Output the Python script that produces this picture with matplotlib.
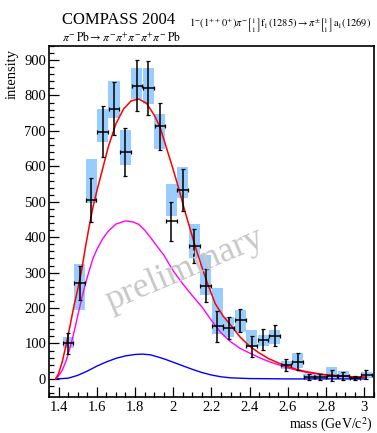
import matplotlib
matplotlib.use("Agg")
import matplotlib.pyplot as plt
from matplotlib.ticker import MultipleLocator, FormatStrFormatter

plt.rcParams["font.family"] = ["Liberation Serif", "DejaVu Serif"]
plt.rcParams["mathtext.fontset"] = "stix"

# data points (mass bins)
mass = [1.45, 1.51, 1.57, 1.63, 1.69, 1.75, 1.81, 1.87, 1.93, 1.99, 2.05, 2.11, 2.17, 2.23,
        2.29, 2.35, 2.41, 2.47, 2.53, 2.59, 2.65, 2.71, 2.77, 2.83, 2.89, 2.95, 3.01]
intensity = [101, 271, 505, 698, 763, 641, 827, 822, 713, 445, 533, 376, 263, 148,
             144, 165, 92, 111, 122, 40, 48, 6, 6, 9, 8, 3, 12]
stat_err = [30, 48, 63, 72, 74, 68, 72, 76, 67, 55, 60, 48, 46, 43,
            31, 32, 30, 30, 30, 17, 24, 8, 8, 16, 11, 5, 12]
# systematic bands (low, high)
sys_lo = [86, 194, 497, 668, 736, 603, 789, 775, 648, 459, 511, 340, 237, 126,
          118, 133, 90, 92, 99, 28, 31, 0, 0, 3, 0, -2, 3]
sys_hi = [119, 323, 622, 763, 840, 704, 877, 879, 749, 549, 597, 436, 351, 258,
          175, 194, 139, 125, 137, 50, 73, 15, 12, 34, 21, 9, 19]

# fit curves
red_x = [1.385, 1.40, 1.42, 1.44, 1.46, 1.48, 1.50, 1.52, 1.54, 1.56, 1.58, 1.60, 1.63, 1.66,
         1.70, 1.74, 1.78, 1.82, 1.86, 1.90, 1.93, 1.96, 2.00, 2.03, 2.06, 2.09, 2.12, 2.15,
         2.18, 2.22, 2.26, 2.30, 2.35, 2.40, 2.45, 2.50, 2.55, 2.60, 2.65, 2.70, 2.78, 2.86,
         2.94, 3.01]
red_y = [0, 15, 50, 97, 150, 205, 252, 305, 370, 430, 485, 530, 592, 655,
         720, 762, 785, 790, 778, 745, 712, 660, 590, 535, 475, 420, 365, 315,
         268, 212, 178, 152, 118, 92, 73, 57, 45, 35, 26, 20, 13, 9,
         6, 5]
mag_x = [1.385, 1.40, 1.42, 1.44, 1.46, 1.48, 1.50, 1.52, 1.54, 1.56, 1.58, 1.60, 1.63, 1.66,
         1.70, 1.75, 1.79, 1.82, 1.85, 1.88, 1.91, 1.95, 2.00, 2.05, 2.10, 2.15, 2.20, 2.25,
         2.30, 2.35, 2.40, 2.45, 2.50, 2.55, 2.60, 2.65, 2.70, 2.78, 2.86, 2.94, 3.01]
mag_y = [0, 8, 25, 52, 88, 130, 178, 225, 268, 305, 340, 365, 395, 417,
         437, 446, 443, 436, 420, 400, 378, 350, 305, 268, 235, 203, 165, 130,
         105, 86, 73, 60, 49, 40, 31, 24, 18, 12, 8, 6, 5]
blue_x = [1.385, 1.45, 1.50, 1.55, 1.60, 1.65, 1.70, 1.75, 1.80, 1.84, 1.88, 1.92, 1.96, 2.00,
          2.05, 2.10, 2.15, 2.20, 2.25, 2.30, 2.40, 2.60, 3.01]
blue_y = [0, 2, 10, 22, 36, 48, 58, 65, 69, 70, 68, 62, 55, 47,
          37, 27, 18, 11, 6, 3, 1, 0, 0]

fig = plt.figure(figsize=(3.77, 4.33), dpi=100)
ax = fig.add_axes([0.130, 0.084, 0.862, 0.810])

heights = [h - l for h, l in zip(sys_hi, sys_lo)]
ax.bar(mass, heights, bottom=sys_lo, width=0.058, color="#99ccff", linewidth=0, zorder=1)

ax.plot(blue_x, blue_y, color="#0000ff", lw=1.0, zorder=2)
ax.plot(mag_x, mag_y, color="#ff00ff", lw=1.0, zorder=2)
ax.plot(red_x, red_y, color="#ff0000", lw=1.1, zorder=3)

ax.errorbar(mass, intensity, yerr=stat_err, xerr=0.028, fmt="none", ecolor="black",
            elinewidth=1.1, capsize=1.5, capthick=0.9, zorder=4)

ax.set_xlim(1.35, 3.05)
ax.set_ylim(-50, 940)
ax.xaxis.set_major_locator(MultipleLocator(0.2))
ax.xaxis.set_minor_locator(MultipleLocator(0.05))
ax.yaxis.set_major_locator(MultipleLocator(100))
ax.yaxis.set_minor_locator(MultipleLocator(20))
ax.xaxis.set_major_formatter(FormatStrFormatter("%g"))
ax.tick_params(which="both", direction="in", top=False, right=False, labelsize=10.5, width=0.9)
ax.tick_params(which="major", length=7)
ax.tick_params(which="minor", length=3.5)
ax.tick_params(axis="y", pad=2)
ax.tick_params(axis="x", pad=3.5)
for s in ax.spines.values():
    s.set_linewidth(1.2)

fig.text(12 / 377, 1 - 74 / 433, "intensity", rotation=90, ha="center", va="center", fontsize=10.5)
fig.text(373 / 377, 1 - 429 / 433, r"mass (GeV/c$^{2}$)", ha="right", va="baseline", fontsize=10)

fig.text(62 / 377, 1 - 24 / 433, "COMPASS 2004", ha="left", va="baseline", fontsize=12)
fig.text(62 / 377, 1 - 41 / 433,
         r"$\pi^{-}\,\mathrm{Pb}\rightarrow\pi^{-}\pi^{+}\pi^{-}\pi^{+}\pi^{-}\,\mathrm{Pb}$",
         ha="left", va="baseline", fontsize=8.4)
fig.text(189 / 377, 1 - 27 / 433,
         r"$1^{-}(1^{++}0^{+})\pi^{-}\genfrac{[}{]}{0}{}{1}{1}\mathrm{f}_{1}(1285)\rightarrow"
         r"\pi^{\pm}\genfrac{[}{]}{0}{}{1}{1}\mathrm{a}_{1}(1269)$",
         ha="left", va="baseline", fontsize=7.5)

fig.text(185 / 377, 1 - 270 / 433, "preliminary", rotation=23, ha="center", va="center",
         rotation_mode="anchor", fontsize=26, color="#c8c8c8", zorder=0)

fig.savefig("out.png", dpi=100)
